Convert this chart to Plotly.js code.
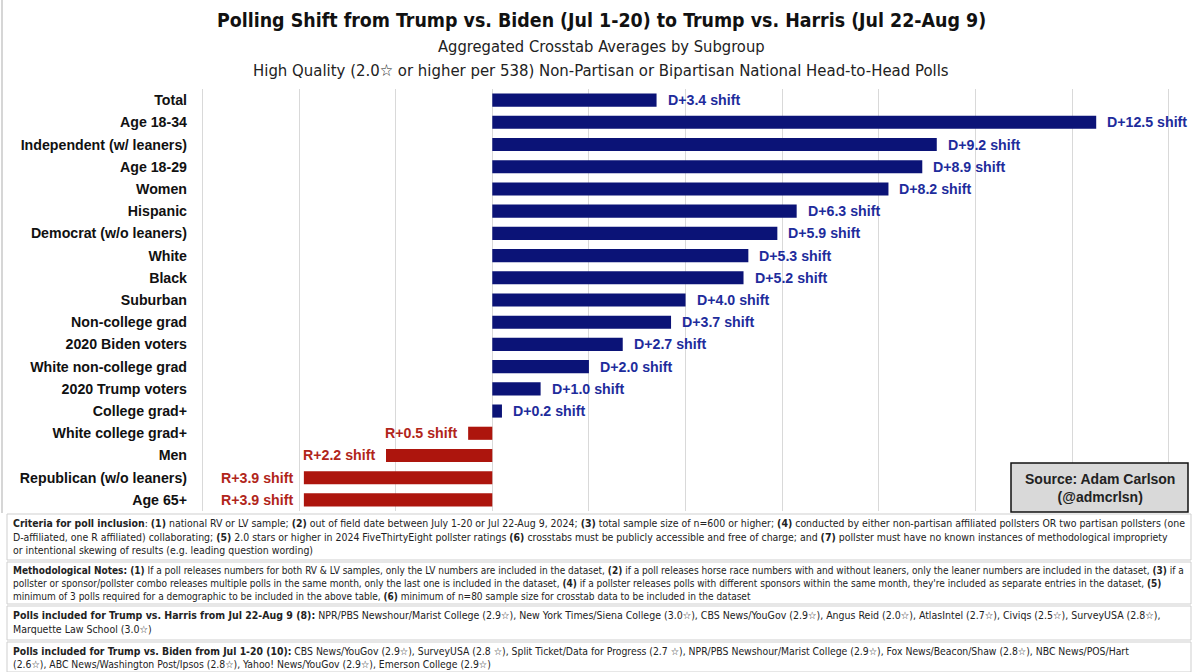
<!DOCTYPE html>
<html>
<head>
<meta charset="utf-8">
<script src="https://cdn.plot.ly/plotly-3.0.1.min.js"></script>
<style>html,body{margin:0;padding:0;background:#fff;}#chart{width:1199px;height:672px;}</style>
</head>
<body>
<div id="chart"></div>
<script>
const categories = ["Total","Age 18-34","Independent (w/ leaners)","Age 18-29","Women","Hispanic","Democrat (w/o leaners)","White","Black","Suburban","Non-college grad","2020 Biden voters","White non-college grad","2020 Trump voters","College grad+","White college grad+","Men","Republican (w/o leaners)","Age 65+"];
const shifts = [3.4,12.5,9.2,8.9,8.2,6.3,5.9,5.3,5.2,4.0,3.7,2.7,2.0,1.0,0.2,-0.5,-2.2,-3.9,-3.9];
const xTicks = [-6,-4,-2,0,2,4,6,8,10,12,14];

const titleText = "Polling Shift from Trump vs. Biden (Jul 1-20) to Trump vs. Harris (Jul 22-Aug 9)";
const subtitle1 = "Aggregated Crosstab Averages by Subgroup";
const subtitle2 = "High Quality (2.0☆ or higher per 538) Non-Partisan or Bipartisan National Head-to-Head Polls";
const sourceText = "<b>Source: Adam Carlson<br>(@admcrlsn)</b>";
const notes = [
 "<b>Criteria for poll inclusion</b>: <b>(1)</b> national RV or LV sample; <b>(2)</b> out of field date between July 1-20 or Jul 22-Aug 9, 2024; <b>(3)</b> total sample size of n=600 or higher; <b>(4)</b> conducted by either non-partisan affiliated pollsters OR two partisan pollsters (one<br>D-affiliated, one R affiliated) collaborating; <b>(5)</b> 2.0 stars or higher in 2024 FiveThirtyEight pollster ratings <b>(6)</b> crosstabs must be publicly accessible and free of charge; and <b>(7)</b> pollster must have no known instances of methodological impropriety<br>or intentional skewing of results (e.g. leading question wording)",
 "<b>Methodological Notes: (1)</b> If a poll releases numbers for both RV &amp; LV samples, only the LV numbers are included in the dataset, <b>(2)</b> if a poll releases horse race numbers with and without leaners, only the leaner numbers are included in the dataset, <b>(3)</b> if a<br>pollster or sponsor/pollster combo releases multiple polls in the same month, only the last one is included in the dataset, <b>(4)</b> if a pollster releases polls with different sponsors within the same month, they're included as separate entries in the dataset, <b>(5)</b><br>minimum of 3 polls required for a demographic to be included in the above table, <b>(6)</b> minimum of n=80 sample size for crosstab data to be included in the dataset",
 "<b>Polls included for Trump vs. Harris from Jul 22-Aug 9 (8):</b> NPR/PBS Newshour/Marist College (2.9☆), New York Times/Siena College (3.0☆), CBS News/YouGov (2.9☆), Angus Reid (2.0☆), AtlasIntel (2.7☆), Civiqs (2.5☆), SurveyUSA (2.8☆),<br>Marquette Law School (3.0☆)",
 "<b>Polls included for Trump vs. Biden from Jul 1-20 (10):</b> CBS News/YouGov (2.9☆), SurveyUSA (2.8 ☆), Split Ticket/Data for Progress (2.7 ☆), NPR/PBS Newshour/Marist College (2.9☆), Fox News/Beacon/Shaw (2.8☆), NBC News/POS/Hart<br>(2.6☆), ABC News/Washington Post/Ipsos (2.8☆), Yahoo! News/YouGov (2.9☆), Emerson College (2.9☆)"
];

const W = 1199, H = 672;
const L = 200, R = 1188, T = 89, B = 511;
const px = x => (x - L) / (R - L);
const py = y => (B - y) / (B - T);

const blueBar = "#0b1377", redBar = "#ad150d";
const blueTxt = "#1e2c9c", redTxt = "#b1251a";
const labels = shifts.map(v => (v >= 0 ? "D+" : "R+") + Math.abs(v).toFixed(1) + " shift");

const trace = {
  type: "bar", orientation: "h",
  y: categories, x: shifts,
  marker: {color: shifts.map(v => v >= 0 ? blueBar : redBar), line: {width: 0}},
  hoverinfo: "skip"
};

const narrow = "DejaVu Sans Condensed, Liberation Sans Narrow, sans-serif";
const sans = "Liberation Sans, Arial, sans-serif";
const boxes = [[514,560],[562,604],[606,640],[642,672]];
const noteSizes = [10.45, 10.0, 10.5, 10.35];
const shapes = [
  {type:"line", xref:"paper", yref:"paper", x0:px(2), x1:px(2), y0:py(0), y1:py(513), line:{color:"#c8c8c8", width:1.5}},
  {type:"rect", xref:"paper", yref:"paper", x0:px(1011), x1:px(1188), y0:py(463), y1:py(512), fillcolor:"#d9d9d9", line:{color:"#111", width:1.5}, layer:"above"}
];
boxes.forEach(b => shapes.push({type:"rect", xref:"paper", yref:"paper", x0:px(7), x1:px(1191), y0:py(b[0]), y1:py(b[1]), fillcolor:"#fff", line:{color:"#cfcfcf", width:1}}));

const annotations = [
  {text:"<b>"+titleText+"</b>", xref:"paper", yref:"paper", x:px(601), y:py(21), xanchor:"center", yanchor:"middle", showarrow:false, font:{family:narrow, size:19.4, color:"#111"}},
  {text:subtitle1, xref:"paper", yref:"paper", x:px(601), y:py(47), xanchor:"center", yanchor:"middle", showarrow:false, font:{family:narrow, size:16.4, color:"#222"}},
  {text:subtitle2, xref:"paper", yref:"paper", x:px(601), y:py(71), xanchor:"center", yanchor:"middle", showarrow:false, font:{family:narrow, size:16.6, color:"#222"}},
  {text:sourceText, xref:"paper", yref:"paper", x:px(1099.5), y:py(487.5), xanchor:"center", yanchor:"middle", showarrow:false, font:{family:sans, size:14, color:"#222"}}
];
categories.forEach((c, i) => {
  const v = shifts[i];
  annotations.push({text:"<b>"+labels[i]+"</b>", xref:"x", yref:"y", x:v, y:c, xanchor: v >= 0 ? "left" : "right", yanchor:"middle", xshift: v >= 0 ? 9 : -9, showarrow:false, font:{family:sans, size:14.2, color: v >= 0 ? blueTxt : redTxt}});
});
notes.forEach((n, i) => annotations.push({text:n, xref:"paper", yref:"paper", x:px(11), y:py(boxes[i][0]+1), xanchor:"left", yanchor:"top", align:"left", showarrow:false, font:{family:narrow, size:noteSizes[i], color:"#222"}}));

const layout = {
  width: W, height: H,
  margin: {l: L, r: W - R, t: T, b: H - B, pad: 0},
  paper_bgcolor: "#fff", plot_bgcolor: "#fff",
  showlegend: false, bargap: 0.41,
  xaxis: {range: [-6.05, 14.4], tickvals: xTicks, showticklabels: false, showgrid: true, gridcolor: "#d9d9d9", gridwidth: 1, zeroline: true, zerolinecolor: "#d9d9d9", zerolinewidth: 1, fixedrange: true},
  yaxis: {autorange: "reversed", showgrid: false, zeroline: false, ticks: "", ticklabelstandoff: 12, tickfont: {family: sans, size: 14.2, color: "#111", weight: "bold"}, fixedrange: true},
  shapes: shapes,
  annotations: annotations
};

Plotly.newPlot("chart", [trace], layout, {displayModeBar: false, staticPlot: true});
</script>
</body>
</html>
